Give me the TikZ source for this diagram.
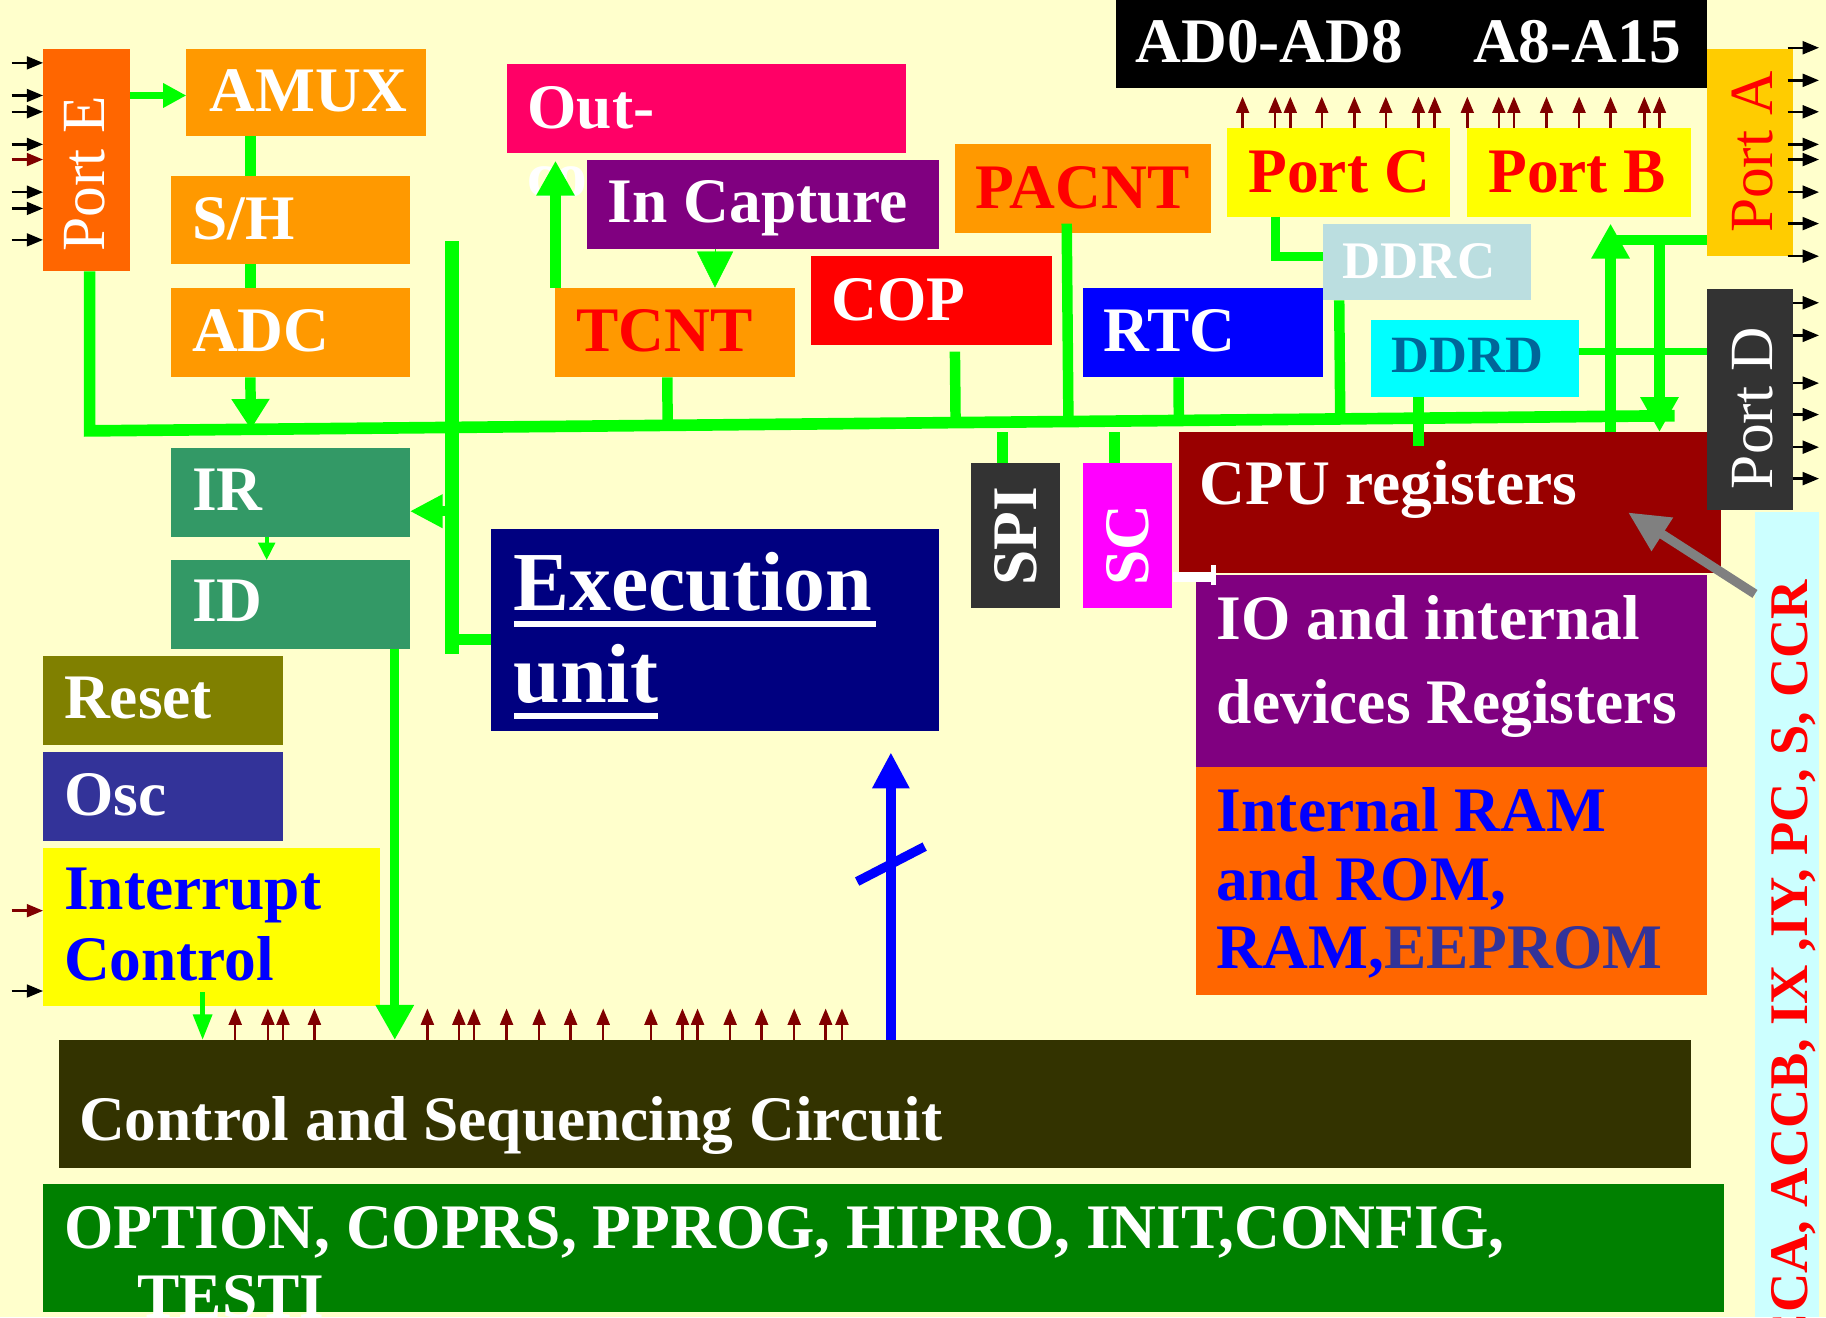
\documentclass[tikz,border=0pt]{standalone}
\usepackage{fontspec}
\setmainfont{Liberation Serif}
\usetikzlibrary{arrows.meta,fit,calc}

\definecolor{bg}{HTML}{FFFFCC}
\definecolor{grn}{HTML}{00FF00}
\definecolor{orgA}{HTML}{FF9900}
\definecolor{orgB}{HTML}{FF6600}
\definecolor{gold}{HTML}{FFCC00}
\definecolor{charc}{HTML}{333333}
\definecolor{rose}{HTML}{FF0066}
\definecolor{purp}{HTML}{800080}
\definecolor{pink}{HTML}{FF00FF}
\definecolor{pureRed}{HTML}{FF0000}
\definecolor{pureBlue}{HTML}{0000FF}
\definecolor{powder}{HTML}{BBDEE0}
\definecolor{aqua}{HTML}{00FFFF}
\definecolor{steel}{HTML}{006699}
\definecolor{maroonA}{HTML}{990000}
\definecolor{maroonB}{HTML}{800000}
\definecolor{sea}{HTML}{339966}
\definecolor{oliveB}{HTML}{808000}
\definecolor{indigoB}{HTML}{333399}
\definecolor{yel}{HTML}{FFFF00}
\definecolor{mud}{HTML}{333300}
\definecolor{forest}{HTML}{008000}
\definecolor{navyB}{HTML}{000080}
\definecolor{ice}{HTML}{CCFFFF}
\definecolor{slate}{HTML}{808080}

\tikzset{
  blk/.style={inner sep=0pt, outer sep=0pt},
  lbl/.style={inner sep=0pt, outer sep=0pt, anchor=base west, text=white,
              font=\bfseries\fontsize{15.5}{18}\selectfont},
  vlbl/.style={lbl, rotate=90},
  portlbl/.style={vlbl, font=\fontsize{15}{18}\selectfont},
  gl/.style={draw=grn, line width=0.9mm},
  ga/.style={gl, -{Triangle[length=3mm,width=3.1mm]}},
  gthin/.style={draw=grn, line width=0.35mm, -{Triangle[length=1.5mm,width=1.4mm]}},
  sa/.style={line width=0.6pt, -{Triangle[length=1.4mm,width=1.1mm]}},
}

\begin{document}
\begin{tikzpicture}[x=0.1mm,y=-0.1mm]
\useasboundingbox (0,0) rectangle (1568,1131);
\fill[bg] (0,0) rectangle (1568,1131);

% ---------- blocks ----------
\node[blk, fill=black,  fit={(958,0) (1466,76)}]     (adbus) {};
\node[blk, fill=orgB,   fit={(37,42) (112,233)}]     (porte) {};
\node[blk, fill=orgA,   fit={(160,42) (366,117)}]    (amux) {};
\node[blk, fill=orgA,   fit={(147,151) (352,227)}]   (sh) {};
\node[blk, fill=orgA,   fit={(147,247) (352,324)}]   (adc) {};
\node[blk, fill=rose,   fit={(435,55) (778,131)}]    (outc) {};
\node[lbl] (cotxt) at (453,169) {co};
\node[blk, fill=purp,   fit={(504,137) (806,214)}]   (incap) {};
\node[blk, fill=orgA,   fit={(477,247) (683,324)}]   (tcnt) {};
\node[blk, fill=pureRed,fit={(696,220) (903,296)}]   (cop) {};
\node[blk, fill=orgA,   fit={(820,124) (1040,200)}]  (pacnt) {};
\node[blk, fill=pureBlue,fit={(930,247) (1136,324)}] (rtc) {};
\node[blk, fill=yel,    fit={(1054,110) (1245,186)}] (portc) {};
\node[blk, fill=yel,    fit={(1260,110) (1452,186)}] (portb) {};
\node[blk, fill=powder, fit={(1136,192) (1315,258)}] (ddrc) {};
\node[blk, fill=aqua,   fit={(1177,275) (1356,341)}] (ddrd) {};
\node[blk, fill=gold,   fit={(1466,42) (1540,220)}]  (porta) {};
\node[blk, fill=maroonA,fit={(1012,371) (1478,492)}] (cpu) {};
\node[blk, fill=charc,  fit={(1466,248) (1540,438)}] (portd) {};
\node[blk, fill=charc,  fit={(834,398) (910,522)}]   (spi) {};
\node[blk, fill=pink,   fit={(930,398) (1006,522)}]  (sc) {};
\node[blk, fill=purp,   fit={(1027,494) (1466,659)}] (io) {};
\node[blk, fill=orgB,   fit={(1027,659) (1466,854)}] (mem) {};
\node[blk, fill=ice,    fit={(1507,440) (1562,1131)}] (regs) {};
\node[blk, fill=sea,    fit={(147,385) (352,461)}]   (ir) {};
\node[blk, fill=sea,    fit={(147,481) (352,557)}]   (id) {};
\node[blk, fill=navyB,  fit={(422,454) (806,628)}]   (exec) {};
\node[blk, fill=oliveB, fit={(37,563) (243,640)}]    (reset) {};
\node[blk, fill=indigoB,fit={(37,646) (243,722)}]    (osc) {};
\node[blk, fill=yel,    fit={(37,728) (326,864)}]    (intc) {};
\node[blk, fill=mud,    fit={(51,893) (1452,1003)}]  (ctrl) {};
\node[blk, fill=forest, fit={(37,1017) (1480,1127)}] (opt) {};

% white marker between the register blocks
\fill[white] (1007,491) rectangle (1043,500);
\fill[white] (1040,485) rectangle (1044,502);

% ---------- labels ----------
\node[lbl] (adtxt) at (975,54) {AD0-AD8\hspace{6mm}A8-A15};
\node[lbl] (amuxtxt) at (180,96) {AMUX};
\node[lbl] (shtxt) at (165,206) {S/H};
\node[lbl] (adctxt) at (165,302) {ADC};
\node[lbl] (outtxt) at (453,110) {Out-};
\node[lbl] (incaptxt) at (522,191) {In Capture};
\node[lbl, text=pureRed] (tcnttxt) at (495,302) {TCNT};
\node[lbl] (coptxt) at (714,275) {COP};
\node[lbl, text=pureRed] (pacnttxt) at (838,179) {PACNT};
\node[lbl] (rtctxt) at (948,302) {RTC};
\node[lbl, text=pureRed] (portctxt) at (1072,165) {Port C};
\node[lbl, text=pureRed] (portbtxt) at (1278,165) {Port B};
\node[lbl, font=\bfseries\fontsize{12.9}{15}\selectfont] (ddrctxt) at (1153,239) {DDRC};
\node[lbl, text=steel, font=\bfseries\fontsize{12.8}{15}\selectfont] (ddrdtxt) at (1195,320) {DDRD};
\node[portlbl] (portetxt) at (90,216) {Port E};
\node[portlbl, text=pureRed] (portatxt) at (1522,200) {Port A};
\node[portlbl] (portdtxt) at (1522,420) {Port D};
\node[vlbl] (spitxt) at (890,503) {SPI};
\node[vlbl] (sctxt) at (986,503) {SC};
\node[lbl] (cputxt) at (1030,433) {CPU registers};
\node[lbl] (iotxtA) at (1045,549) {IO and internal};
\node[lbl] (iotxtB) at (1045,621) {devices Registers};
\node[lbl, text=pureBlue] (memtxtA) at (1045,714) {Internal RAM};
\node[lbl, text=pureBlue] (memtxtB) at (1045,773) {and ROM,};
\node[lbl, text=pureBlue] (memtxtC) at (1045,832) {RAM,\textcolor{indigoB}{EEPROM}};
\node[vlbl, anchor=base east, text=pureRed, font=\bfseries\fontsize{13.3}{16}\selectfont]
     (regstxt) at (1552,498) {ACCA, ACCB, IX ,IY, PC, S, CCR};
\node[lbl] (irtxt) at (165,438) {IR};
\node[lbl] (idtxt) at (165,534) {ID};
\node[lbl, font=\bfseries\fontsize{20.5}{24}\selectfont] (exectxtA) at (441,524) {Execution};
\node[lbl, font=\bfseries\fontsize{20.5}{24}\selectfont] (exectxtB) at (441,603) {unit};
\fill[white] (441,533) rectangle (752,538);
\fill[white] (441,612) rectangle (565,617);
\node[lbl] (resettxt) at (55,617) {Reset};
\node[lbl] (osctxt) at (55,700) {Osc};
\node[lbl, text=pureBlue] (inttxtA) at (55,781) {Interrupt};
\node[lbl, text=pureBlue] (inttxtB) at (55,842) {Control};
\node[lbl] (ctrltxt) at (68,979) {Control and Sequencing Circuit};
\node[lbl] (opttxtA) at (55,1072) {OPTION, COPRS, PPROG, HIPRO, INIT,CONFIG,};
\node[lbl] (opttxtB) at (118,1131) {TESTI};

% ---------- internal bus ----------
\coordinate (busL) at (77,370);
\coordinate (busR) at (1438,357);
\draw[gl, line width=1mm] (porte.south -| busL) -- (busL) -- (busR);

\coordinate (vtop) at (388,207);
\coordinate (vbot) at (388,562);
\draw[gl, line width=1.2mm] (vtop) -- (vbot);
\draw[ga, -{Triangle[length=2.8mm,width=2.7mm]}] (vtop |- 0,439) -- (ir.east |- 0,439);
\draw[gl] (vtop |- 0,549) -- (exec.west |- 0,549);

% analog chain
\draw[gl, line width=0.6mm, -{Triangle[length=2mm,width=2mm]}] (porte.east |- 0,82) -- (amux.west |- 0,82);
\draw[gl] (amux.south -| 215,0) -- (sh.north -| 215,0);
\draw[gl] (sh.south -| 215,0) -- (adc.north -| 215,0);
\draw[ga, -{Triangle[length=2.6mm,width=3.1mm]}] (adc.south -| 215,0) -- ($(busL)!(adc.south -| 215,0)!(busR)$);

% timers and peripherals
\draw[ga] (tcnt.north -| 477,0) -- ($(outc.south -| 477,0)+(0,7)$);
\draw[draw=grn, fill=grn, line width=0.1pt, -{Triangle[length=3.1mm,width=3.1mm]}] (incap.south -| 614,0) -- (tcnt.north -| 614,0);
\foreach \nd/\xx in {tcnt/573, rtc/1012, ddrc/1150}
  \draw[gl] (\nd.south -| \xx,0) -- ($(busL)!(\nd.south -| \xx,0)!(busR)$);
\draw[gl] ($(cop.south -| 820,0)+(0,6)$) -- ($(busL)!(cop.south -| 820,0)!(busR)$);
\draw[gl] ($(pacnt.south -| 916,0)+(0,-8)$) -- ($(busL)!(pacnt.south -| 916,0)!(busR)$);
\draw[gl] (spi.north -| 861,0) -- (861,371);
\draw[gl] (sc.north -| 957,0) -- (957,371);

% ports and data direction registers
\draw[gl, line width=0.75mm] (portc.south -| 1095,0) |- (ddrc.west |- 0,220);
\draw[gl] (ddrd.south -| 1218,0) -- ($(cpu.north -| 1218,0)+(0,12)$);
\draw[gl, line width=0.65mm] (ddrd.east |- 0,302) -- (portd.west |- 0,302);
\coordinate (pbj) at (1383,206);
\coordinate (pdj) at (1425,206);
\draw[gl, line width=0.8mm] (porta.west |- pbj) -- (pbj);
\draw[ga] (cpu.north -| pbj) -- ($(portb.south -| pbj)+(0,6)$);
\draw[ga] (pdj) -- (cpu.north -| pdj);

% decoder and control paths
\draw[gthin] (ir.south -| 229,0) -- (id.north -| 229,0);
\draw[ga, line width=0.8mm] (id.south -| 339,0) -- (ctrl.north -| 339,0);
\draw[gthin, line width=0.4mm, -{Triangle[length=2.2mm,width=1.6mm]}] ($(intc.south -| 174,0)+(0,-12)$) -- (ctrl.north -| 174,0);

% execution feedback
\draw[draw=pureBlue, line width=0.8mm, -{Triangle[length=3.1mm,width=3mm]}] (ctrl.north -| 765,0) -- ($(exec.south -| 765,0)+(0,18)$);
\draw[draw=pureBlue, line width=0.8mm] (736,757) -- (794,727);

% register list pointer
\draw[draw=slate, line width=0.8mm, -{Triangle[length=3.5mm,width=3.2mm]}] (regs.west |- 0,510) -- (1398,440);

% ---------- pin arrows ----------
\foreach \yy in {54,82,96,124,165,179,206}
  \draw[sa, black] (10,\yy) -- (porte.west |- 0,\yy);
\draw[sa, maroonB] (10,137) -- (porte.west |- 0,137);
\draw[sa, maroonB] (10,782) -- (intc.west |- 0,782);
\draw[sa, black] (10,851) -- (intc.west |- 0,851);
\foreach \yy in {41,69,96,124,137,165,192,220}
  \draw[sa, black] (1535,\yy) -- (1562,\yy);
\foreach \yy in {260,288,329,356,384,411}
  \draw[sa, black] (portd.east |- 0,\yy) -- (1562,\yy);
\foreach \xx in {1067,1095,1108,1135,1163,1190,1218,1232}
  \draw[sa, maroonB] (portc.north -| \xx,0) -- (\xx,83);
\foreach \xx in {1260,1287,1300,1328,1356,1383,1412,1425}
  \draw[sa, maroonB] (portb.north -| \xx,0) -- (\xx,83);
\foreach \xx in {202,230,243,270,367,394,407,435,463,490,518,559,586,599,627,654,682,709,723}
  \draw[sa, maroonB] (ctrl.north -| \xx,0) -- (\xx,866);
\end{tikzpicture}
\end{document}
